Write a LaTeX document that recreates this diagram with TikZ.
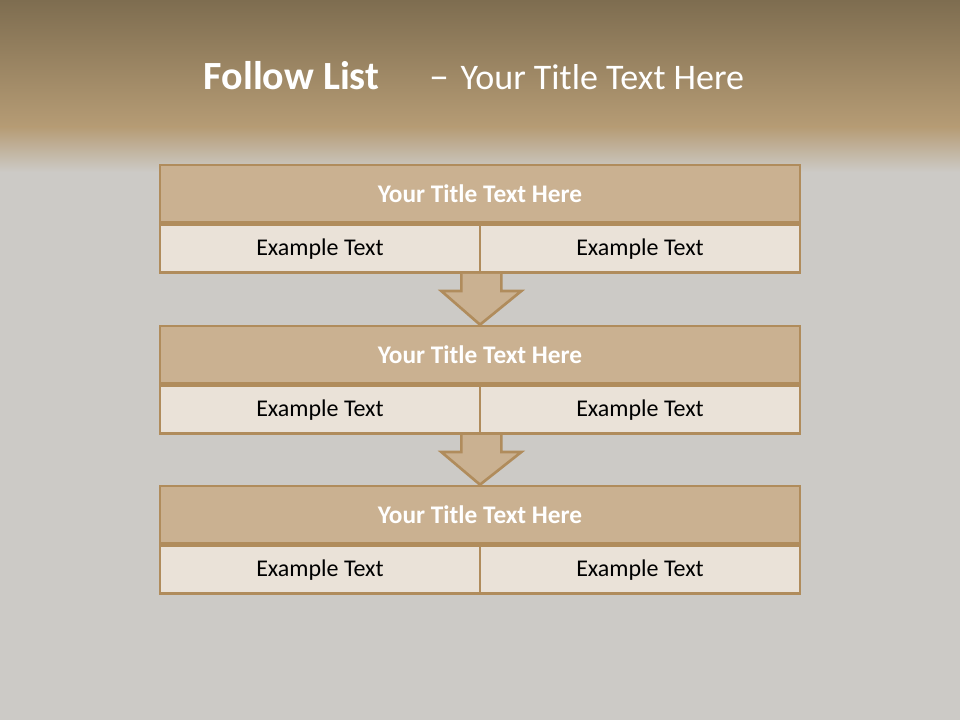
\documentclass[tikz,border=0pt]{standalone}
\usepackage{fontspec}
\setmainfont{Carlito}
\usetikzlibrary{positioning,calc}
\definecolor{bandtop}{RGB}{126,109,80}
\definecolor{bandbot}{RGB}{182,156,117}
\definecolor{slate}{RGB}{204,202,198}
\definecolor{tan}{RGB}{202,177,145}
\definecolor{tanline}{RGB}{176,140,92}
\definecolor{cream}{RGB}{234,226,216}

\begin{document}
\begin{tikzpicture}[
  x=0.75pt,y=-0.75pt,
  node distance=0pt,
  tbox/.style={rectangle,draw=tanline,line width=2pt,fill=tan,
               minimum width=480pt,minimum height=42.75pt,inner sep=0pt,
               text=white,font=\fontsize{19}{22}\selectfont\bfseries},
  ebox/.style={rectangle,draw=tanline,line width=2pt,fill=cream,
               minimum width=240pt,minimum height=36pt,inner sep=0pt,
               text=black,font=\fontsize{18}{21}\selectfont},
  darr/.style={draw=tanline,line width=2pt,fill=tan,line join=miter},
]
\useasboundingbox (0,0) rectangle (960,720);
% background and header band
\fill[slate] (0,0) rectangle (960,720);
\shade[top color=bandtop,bottom color=bandbot] (0,0) rectangle (960,128);
\shade[top color=bandbot,bottom color=slate] (0,127) rectangle (960,172);

\node[text=white,font=\fontsize{30}{34}\selectfont] (head) at (474,76)
  {\textbf{Follow List}\hspace{38pt}–\hspace{8pt}{\fontsize{27}{32}\selectfont Your Title Text Here}};

% three steps
\node[tbox] (t1) at (480,193.5) {Your Title Text Here};
\node[ebox,anchor=north west] (e1a) at (t1.south west) {Example Text};
\node[ebox,anchor=north east] (e1b) at (t1.south east) {Example Text};

\node[tbox] (t2) at (480,354.5) {Your Title Text Here};
\node[ebox,anchor=north west] (e2a) at (t2.south west) {Example Text};
\node[ebox,anchor=north east] (e2b) at (t2.south east) {Example Text};

\node[tbox] (t3) at (480,514.5) {Your Title Text Here};
\node[ebox,anchor=north west] (e3a) at (t3.south west) {Example Text};
\node[ebox,anchor=north east] (e3b) at (t3.south east) {Example Text};

% block arrows
\draw[darr] ($(e1a.south east)+(-20,0)$) -- ++(0,17) -- ++(-20,0)
  -- (t2.north) -- ($(e1a.south east)+(40,17)$) -- ++(-20,0)
  -- ($(e1a.south east)+(20,0)$);
\draw[darr] ($(e2a.south east)+(-20,0)$) -- ++(0,17) -- ++(-20,0)
  -- (t3.north) -- ($(e2a.south east)+(40,17)$) -- ++(-20,0)
  -- ($(e2a.south east)+(20,0)$);
\end{tikzpicture}
\end{document}
